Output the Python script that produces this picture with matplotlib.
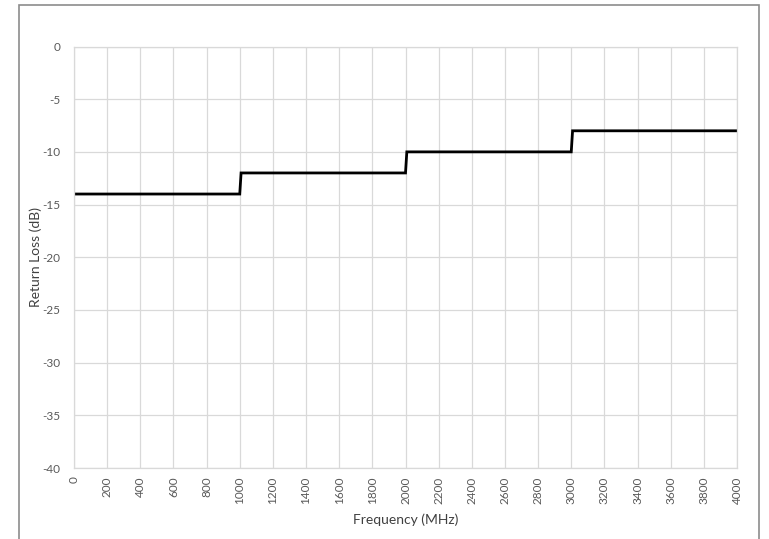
import matplotlib
matplotlib.use('Agg')
import matplotlib.pyplot as plt
from matplotlib.patches import Rectangle

# Step limit curve (MHz, dB)
freq = [0, 1000, 1008, 2000, 2008, 3000, 3008, 4000]
return_loss = [-14, -14, -12, -12, -10, -10, -8, -8]

x_ticks = list(range(0, 4001, 200))
y_ticks = list(range(-40, 1, 5))

plt.rcParams['font.family'] = ['Lato', 'DejaVu Sans']
plt.rcParams['axes.unicode_minus'] = False

fig = plt.figure(figsize=(7.69, 5.39), dpi=100)
ax = fig.add_axes([74 / 769, 1 - 468 / 539, (737 - 74) / 769, (468 - 46.5) / 539])

# outer chart border
fig.patches.append(Rectangle((19 / 769, -0.1), (759 - 19) / 769, 1.1 - 5 / 539,
                             transform=fig.transFigure, fill=False,
                             edgecolor='#8c8c8c', linewidth=1.2))

ax.plot(freq, return_loss, color='black', linewidth=2.0, solid_joinstyle='miter')

ax.set_xlim(0, 4000)
ax.set_ylim(-40, 0)
ax.set_xticks(x_ticks)
ax.set_yticks(y_ticks)
ax.set_xticklabels([str(v) for v in x_ticks], rotation=90)
ax.tick_params(axis='both', length=0, labelsize=8.5, colors='#595959')
ax.tick_params(axis='y', pad=10)
ax.tick_params(axis='x', pad=6)

ax.grid(True, color='#d9d9d9', linewidth=0.9)
ax.set_axisbelow(True)
for s in ax.spines.values():
    s.set_color('#d9d9d9')
    s.set_linewidth(0.9)

ax.set_xlabel('Frequency (MHz)', fontsize=10, color='#404040')
ax.set_ylabel('Return Loss (dB)', fontsize=10, color='#404040')
ax.yaxis.set_label_coords((42 - 74) / 663, 0.5)
ax.xaxis.set_label_coords(0.5, -(513 - 468) / 421.5)

plt.savefig('out.png', dpi=100)
plt.close(fig)
